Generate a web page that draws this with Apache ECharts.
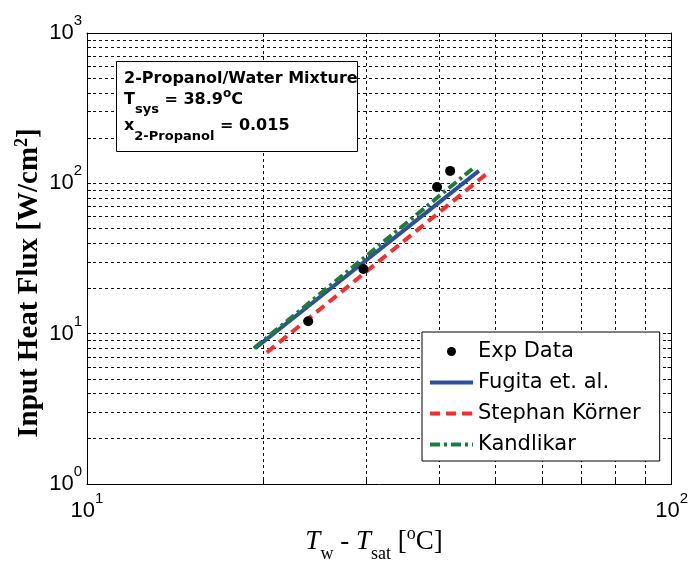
<!DOCTYPE html>
<html>
<head>
<meta charset="utf-8">
<script src="https://cdn.jsdelivr.net/npm/echarts@6/dist/echarts.min.js"></script>
<style>
  html, body { margin: 0; padding: 0; background: #fff; }
  #chart { width: 691px; height: 572px; }
</style>
</head>
<body>
<div id="chart"></div>
<script>
  // values (log-log plot)
  var expData = [[23.9, 12.1], [29.7, 26.9], [39.7, 94.6], [41.8, 121]]
  var fugita = [[19.4, 8.0], [46.8, 121]]
  var stephanKorner = [[20.3, 7.5], [49.0, 121.5]]
  var kandlikar = [[19.3, 8.0], [45.6, 124.7]]

  var xTicks = [10, 20, 30, 40, 50, 60, 70, 80, 90, 100]
  var yTicks = [1, 2, 3, 4, 5, 6, 7, 8, 9, 10, 20, 30, 40, 50, 60, 70, 80, 90,
    100, 200, 300, 400, 500, 600, 700, 800, 900, 1000]
  var xLabels = [10, 100]
  var yLabels = [1, 10, 100, 1000]

  var sans = '"DejaVu Sans", "Liberation Sans", Arial, sans-serif'
  var serif = '"Liberation Serif", "Times New Roman", serif'

  var gridDash = { color: '#111', width: 1, type: [3, 3] }
  var tickRich = {
    b: { fontSize: 22, fontFamily: '"Liberation Sans", Arial', color: '#000', lineHeight: 30 },
    s: { fontSize: 15, fontFamily: '"Liberation Sans", Arial', color: '#000', lineHeight: 30, padding: [0, 0, 24, 0] }
  }
  function powLabel(v) {
    return '{b|10}{s|' + Math.round(Math.log10(v)) + '}'
  }

  function logAxis(min, max, ticks, labels, pos, main) {
    return {
      type: 'log',
      logBase: 10,
      min: min,
      max: max,
      position: pos,
      axisLine: { show: true, onZero: false, lineStyle: { color: '#000', width: 1 } },
      axisTick: { show: true, inside: true, length: 4, customValues: ticks, lineStyle: { color: '#000' } },
      axisLabel: main ? {
        show: true,
        customValues: labels,
        formatter: powLabel,
        rich: tickRich,
        margin: pos === 'bottom' ? 12 : 5
      } : { show: false },
      splitLine: { show: main, lineStyle: gridDash },
      minorTick: { show: false },
      minorSplitLine: { show: false }
    }
  }

  var chart = echarts.init(document.getElementById('chart'), null, { renderer: 'canvas' })
  chart.setOption({
    animation: false,
    backgroundColor: '#fff',
    textStyle: { fontFamily: sans },
    grid: { left: 87, right: 18, top: 33, bottom: 88, containLabel: false },
    xAxis: [
      logAxis(10, 100, xTicks, xLabels, 'bottom', true),
      logAxis(10, 100, xTicks, xLabels, 'top', false)
    ],
    yAxis: [
      logAxis(1, 1000, yTicks, yLabels, 'left', true),
      logAxis(1, 1000, yTicks, yLabels, 'right', false)
    ],
    legend: {
      orient: 'vertical',
      left: 422,
      top: 332,
      padding: [9, 19, 6, 6],
      itemGap: 10,
      itemWidth: 43,
      itemHeight: 9,
      backgroundColor: '#fff',
      borderColor: '#000',
      borderWidth: 1,
      textStyle: { fontSize: 21, fontFamily: sans, color: '#000' },
      data: [
        { name: 'Exp Data', icon: 'circle', itemStyle: { color: '#000', opacity: 1 } },
        { name: 'Fugita et. al.', itemStyle: { opacity: 0 }, lineStyle: { width: 4 } },
        { name: 'Stephan Körner', itemStyle: { opacity: 0 }, lineStyle: { width: 4 } },
        { name: 'Kandlikar', itemStyle: { opacity: 0 }, lineStyle: { width: 4 } }
      ]
    },
    graphic: [
      {
        type: 'rect',
        z: 100,
        shape: { x: 116.5, y: 61.5, width: 241, height: 90 },
        style: { fill: '#fff', stroke: '#000', lineWidth: 1 }
      },
      {
        type: 'text',
        z: 101,
        x: 124,
        y: 79,
        style: {
          text: '2-Propanol/Water Mixture',
          fill: '#000',
          fontFamily: sans,
          fontWeight: 'bold',
          fontSize: 16,
          verticalAlign: 'middle'
        }
      },
      {
        type: 'text',
        z: 101,
        x: 124,
        y: 100,
        style: {
          text: '{m|T}{sub|sys}{m| = 38.9}{sup|o}{m|C}',
          verticalAlign: 'middle',
          rich: {
            m: { fontFamily: sans, fontWeight: 'bold', fontSize: 16, fill: '#000', lineHeight: 40 },
            sub: { fontFamily: sans, fontWeight: 'bold', fontSize: 13, fill: '#000', lineHeight: 40, padding: [20, 0, 0, 0] },
            sup: { fontFamily: sans, fontWeight: 'bold', fontSize: 12, fill: '#000', lineHeight: 40, padding: [0, 0, 12, 0] }
          }
        }
      },
      {
        type: 'text',
        z: 101,
        x: 124,
        y: 126,
        style: {
          text: '{m|x}{sub|2-Propanol}{m| = 0.015}',
          verticalAlign: 'middle',
          rich: {
            m: { fontFamily: sans, fontWeight: 'bold', fontSize: 16, fill: '#000', lineHeight: 40 },
            sub: { fontFamily: sans, fontWeight: 'bold', fontSize: 13, fill: '#000', lineHeight: 40, padding: [22, 0, 0, 0] }
          }
        }
      },
      {
        // x axis title
        type: 'text',
        x: 374,
        y: 542,
        style: {
          text: '{it|T}{sub|w}{r| - }{it|T}{sub|sat}{r| [}{sup|o}{r|C]}',
          align: 'center',
          verticalAlign: 'middle',
          rich: {
            it: { fontFamily: serif, fontStyle: 'italic', fontSize: 27, fill: '#000', lineHeight: 50 },
            r: { fontFamily: serif, fontSize: 27, fill: '#000', lineHeight: 50 },
            sub: { fontFamily: serif, fontSize: 18, fill: '#000', lineHeight: 50, padding: [24, 0, 0, 0] },
            sup: { fontFamily: serif, fontSize: 18, fill: '#000', lineHeight: 50, padding: [0, 0, 15, 0] }
          }
        }
      },
      {
        // y axis title
        type: 'text',
        x: 30,
        y: 283,
        rotation: Math.PI / 2,
        style: {
          text: '{b|Input Heat Flux [W/cm}{sup|2}{b|]}',
          align: 'center',
          verticalAlign: 'middle',
          rich: {
            b: { fontFamily: serif, fontWeight: 'bold', fontSize: 29, fill: '#000', lineHeight: 44 },
            sup: { fontFamily: serif, fontWeight: 'bold', fontSize: 18, fill: '#000', lineHeight: 44, padding: [0, 0, 16, 0] }
          }
        }
      }
    ],
    series: [
      {
        name: 'Fugita et. al.',
        type: 'line',
        data: fugita,
        symbol: 'none',
        color: '#2d4f9e',
        lineStyle: { color: '#2d4f9e', width: 4 },
        z: 2
      },
      {
        name: 'Stephan Körner',
        type: 'line',
        data: stephanKorner,
        symbol: 'none',
        color: '#ff2b2b',
        lineStyle: { color: '#ff2b2b', width: 4, type: [10, 6] },
        z: 2
      },
      {
        name: 'Kandlikar',
        type: 'line',
        data: kandlikar,
        symbol: 'none',
        color: '#1b7d3a',
        lineStyle: { color: '#1b7d3a', width: 4, type: [10, 4, 3, 4] },
        z: 2
      },
      {
        name: 'Exp Data',
        type: 'scatter',
        data: expData,
        symbol: 'circle',
        symbolSize: 10,
        color: '#000',
        itemStyle: { color: '#000', opacity: 1 },
        z: 3
      }
    ]
  })
</script>
</body>
</html>
